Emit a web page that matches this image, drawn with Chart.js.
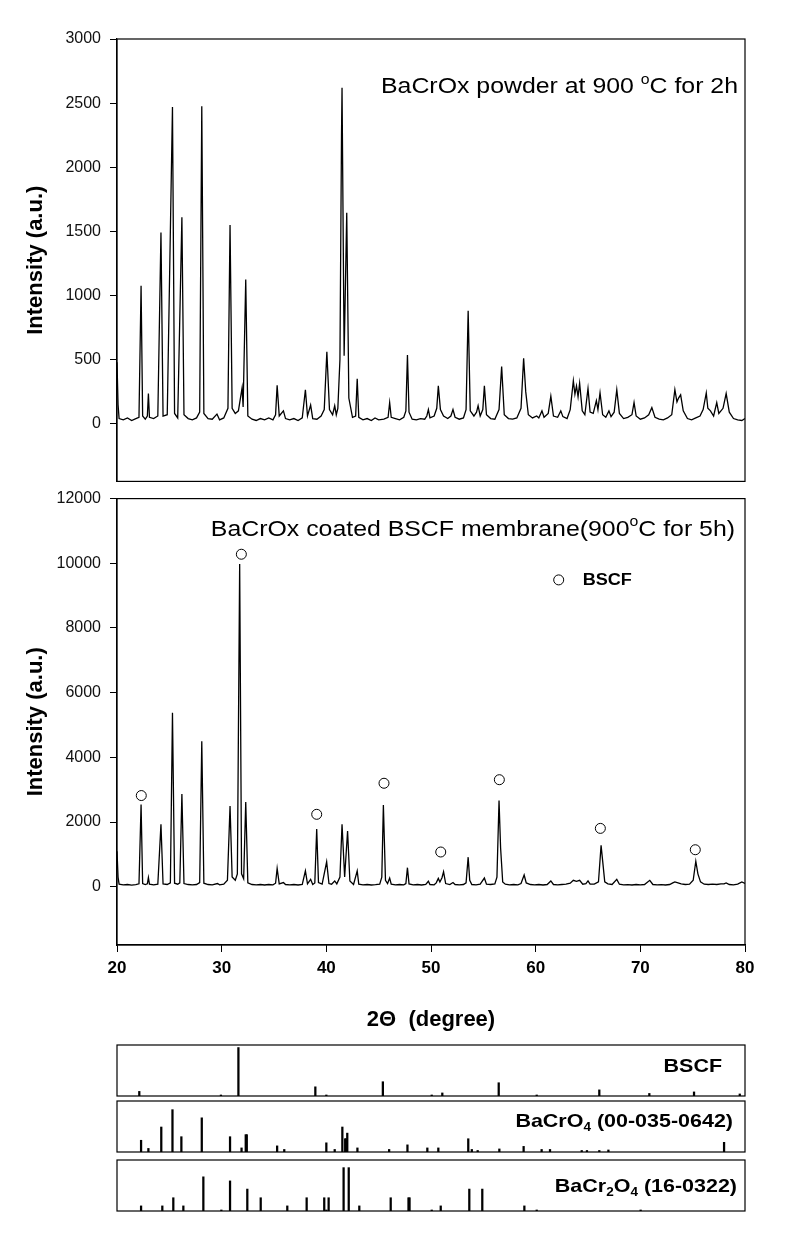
<!DOCTYPE html>
<html>
<head>
<meta charset="utf-8">
<script src="https://cdn.jsdelivr.net/npm/chart.js@4"></script>
<style>
  body { margin: 0; background: #fff; width: 792px; height: 1251px; position: relative; overflow: hidden; }
  canvas { position: absolute; left: 0; }
</style>
</head>
<body>
<canvas id="powderChart" width="792" height="500" style="top:0px"></canvas>
<canvas id="membraneChart" width="792" height="560" style="top:480px"></canvas>
<canvas id="bscfRef" width="792" height="61" style="top:1040px"></canvas>
<canvas id="chromateRef" width="792" height="61" style="top:1096px"></canvas>
<canvas id="chromiteRef" width="792" height="61" style="top:1155px"></canvas>
<script>
// BaCrOx powder, 900 C 2h  -- [2theta, intensity]
const powderScan = [
  [20.0,480],[20.1,150],[20.2,40],[20.6,30],[21.0,45],[21.4,25],[21.8,40],[22.1,50],[22.3,1075],[22.45,60],
  [22.7,35],[22.9,60],[23.0,235],[23.1,50],[23.5,40],[23.9,60],[24.2,1490],[24.4,60],[24.8,70],[25.3,2470],
  [25.5,80],[25.8,45],[26.2,1610],[26.4,70],[26.8,40],[27.2,30],[27.6,45],[27.9,90],[28.1,2475],[28.3,80],
  [28.7,40],[29.1,35],[29.55,75],[29.8,30],[30.2,45],[30.6,120],[30.8,1550],[31.0,120],[31.3,80],[31.6,100],
  [31.95,280],[32.05,130],[32.3,1125],[32.5,60],[32.9,35],[33.3,25],[33.7,40],[34.1,30],[34.5,45],[34.9,30],
  [35.15,70],[35.3,300],[35.5,60],[35.9,100],[36.1,40],[36.5,30],[36.9,40],[37.3,25],[37.7,45],[38.0,265],
  [38.2,60],[38.5,145],[38.7,40],[39.1,35],[39.5,60],[39.8,110],[40.05,560],[40.3,110],[40.6,70],[40.8,140],
  [40.95,70],[41.1,120],[41.3,500],[41.45,2250],[41.5,2620],[41.7,530],[41.95,1645],[42.15,200],[42.5,50],[42.8,60],
  [42.95,350],[43.1,50],[43.5,30],[43.9,40],[44.3,25],[44.65,45],[45.0,30],[45.5,35],[45.9,50],[46.05,165],
  [46.2,50],[46.6,40],[47.0,30],[47.4,50],[47.6,100],[47.75,535],[47.9,90],[48.2,35],[48.6,30],[49.0,40],
  [49.4,35],[49.6,60],[49.75,110],[49.9,45],[50.3,60],[50.55,120],[50.7,295],[50.9,110],[51.2,60],[51.6,40],
  [51.9,60],[52.1,110],[52.3,50],[52.7,35],[53.1,45],[53.35,110],[53.55,880],[53.75,100],[54.1,60],[54.35,90],
  [54.5,140],[54.7,60],[54.95,110],[55.1,295],[55.3,70],[55.7,40],[56.1,35],[56.5,110],[56.75,445],[57.0,70],
  [57.4,40],[57.8,35],[58.2,45],[58.6,120],[58.85,510],[59.05,250],[59.3,70],[59.7,45],[60.1,60],[60.3,45],
  [60.6,100],[60.8,50],[61.2,80],[61.45,215],[61.7,60],[62.1,50],[62.4,100],[62.6,55],[63.0,40],[63.3,110],
  [63.6,335],[63.75,230],[63.9,295],[64.05,210],[64.2,315],[64.45,100],[64.7,70],[65.0,275],[65.2,90],[65.5,80],
  [65.8,180],[65.95,110],[66.15,240],[66.4,70],[66.7,50],[67.0,100],[67.2,55],[67.5,90],[67.75,265],[68.0,80],
  [68.4,40],[68.8,50],[69.2,70],[69.4,165],[69.6,60],[70.0,35],[70.4,45],[70.8,70],[71.1,125],[71.4,50],
  [71.8,35],[72.2,30],[72.6,45],[73.0,70],[73.3,265],[73.5,170],[73.65,200],[73.85,225],[74.1,100],[74.5,40],
  [74.9,30],[75.3,45],[75.7,60],[76.0,110],[76.3,240],[76.45,120],[76.7,100],[77.0,60],[77.3,165],[77.5,80],
  [77.9,120],[78.2,235],[78.5,90],[78.9,40],[79.3,30],[79.7,25],[80.0,40]
];

// BaCrOx coated BSCF membrane, 900 C 5h
const membraneScan = [
  [20.0,1100],[20.1,300],[20.2,80],[20.6,60],[21.0,70],[21.4,50],[21.8,65],[22.1,90],[22.3,2540],[22.45,100],
  [22.7,70],[22.9,90],[23.0,285],[23.1,80],[23.5,60],[23.9,80],[24.2,1930],[24.4,90],[24.8,70],[25.1,120],
  [25.3,5380],[25.5,110],[25.8,80],[26.0,120],[26.2,2870],[26.4,100],[26.8,70],[27.2,60],[27.6,70],[27.9,130],
  [28.1,4495],[28.3,110],[28.7,70],[29.1,60],[29.6,100],[29.8,60],[30.2,80],[30.55,200],[30.8,2500],[31.0,300],
  [31.3,200],[31.5,400],[31.72,9975],[31.9,400],[32.1,250],[32.3,2620],[32.5,120],[32.9,70],[33.3,60],[33.7,70],
  [34.1,55],[34.5,70],[34.9,60],[35.15,110],[35.3,570],[35.5,90],[35.9,130],[36.1,70],[36.5,60],[36.9,70],
  [37.3,55],[37.7,70],[38.0,490],[38.2,90],[38.5,230],[38.7,70],[38.9,120],[39.08,1785],[39.25,130],[39.6,80],
  [40.03,770],[40.25,100],[40.5,80],[40.8,180],[41.0,90],[41.3,300],[41.5,1930],[41.75,300],[42.03,1725],[42.25,180],
  [42.6,70],[42.95,490],[43.1,80],[43.5,60],[43.9,70],[44.3,55],[44.7,65],[45.1,80],[45.3,300],[45.45,2530],
  [45.65,200],[45.85,100],[46.05,270],[46.2,80],[46.6,60],[47.0,70],[47.4,60],[47.6,100],[47.75,590],[47.9,90],
  [48.3,60],[48.7,70],[49.1,55],[49.5,70],[49.75,170],[49.9,70],[50.3,60],[50.5,120],[50.7,260],[50.85,150],
  [51.05,280],[51.2,465],[51.4,100],[51.8,70],[52.1,130],[52.3,70],[52.7,60],[53.1,70],[53.35,120],[53.55,915],
  [53.7,200],[53.9,70],[54.3,60],[54.7,80],[55.1,270],[55.3,80],[55.7,70],[56.1,90],[56.3,300],[56.5,2670],
  [56.65,1200],[56.85,150],[57.1,80],[57.5,60],[57.9,70],[58.3,60],[58.6,100],[58.9,365],[59.1,120],[59.5,70],
  [59.9,60],[60.3,70],[60.7,55],[61.1,70],[61.45,180],[61.7,70],[62.1,60],[62.5,70],[62.9,80],[63.3,110],
  [63.6,200],[63.9,170],[64.2,200],[64.5,80],[64.8,100],[65.0,180],[65.2,80],[65.6,80],[66.0,150],[66.25,1280],
  [66.4,800],[66.6,150],[66.9,90],[67.3,70],[67.75,230],[68.0,80],[68.4,60],[68.8,65],[69.2,55],[69.6,70],
  [70.0,60],[70.4,70],[70.9,200],[71.2,70],[71.6,60],[72.0,65],[72.4,55],[72.8,70],[73.1,120],[73.3,150],
  [73.6,120],[73.9,90],[74.3,70],[74.7,80],[75.05,200],[75.3,790],[75.5,400],[75.75,150],[76.1,80],[76.5,70],
  [76.9,80],[77.3,70],[77.7,90],[78.0,90],[78.2,120],[78.5,70],[78.9,60],[79.3,80],[79.7,150],[80.0,100]
];

// open circles over the BSCF reflections
const bscfMarkers = [[22.32,2820],[31.88,10280],[39.08,2240],[45.51,3200],[50.93,1075],[56.53,3310],[66.18,1805],[75.25,1145]];

// reference patterns, relative intensity (0-100)
const bscfSticks = [[22.13,9],[29.93,2],[31.6,95],[38.95,18],[40.0,2],[45.4,28],[50.07,2],[51.08,6],[56.47,26],[60.1,2],[66.08,12],[70.86,5],[75.13,8],[79.5,4]];
const bacro4Sticks = [[22.3,23],[23.0,7],[24.23,49],[25.3,83],[26.15,30],[28.1,67],[30.8,30],[31.9,8],[32.3,34],[32.4,34],[35.3,12],[35.98,5],[40.0,18],[40.8,5],[41.53,49],[41.8,26],[41.88,26],[42.0,37],[42.97,8],[46.0,5],[47.75,14],[49.65,8],[50.7,8],[53.56,26],[53.9,5],[54.46,3],[56.53,6],[58.85,11],[60.57,5],[61.37,5],[64.4,3],[64.9,3],[66.08,3],[66.95,4],[78.0,19]];
const bacr2o4Sticks = [[22.3,10],[24.33,10],[25.38,26],[26.34,10],[28.25,67],[29.97,2],[30.8,59],[32.45,43],[33.73,26],[36.27,10],[38.12,26],[39.8,26],[40.0,2],[40.22,26],[41.65,85],[42.14,85],[43.15,10],[46.15,26],[47.85,26],[47.95,26],[50.07,2],[50.93,10],[53.66,43],[54.9,43],[58.92,10],[60.1,2],[70.03,2]];

// axis ticks
const powderTicks = [0, 500, 1000, 1500, 2000, 2500, 3000];
const membraneTicks = [0, 2000, 4000, 6000, 8000, 10000, 12000];
const twoThetaTicks = [20, 30, 40, 50, 60, 70, 80];

const FONT = 'Arial, "Liberation Sans", sans-serif';
const STRETCH = 1.13; // the original figure is a bit wider than tall

const toPoints = pairs => pairs.map(p => ({ x: p[0], y: p[1] }));

function drawRich(ctx, parts, x, y, size, weight) {
  const fontOf = p => (weight || 'normal') + ' ' + (p.sup || p.sub ? Math.round(size * 0.62) : size) + 'px ' + FONT;
  ctx.save();
  let total = 0;
  const widths = parts.map(p => { ctx.font = fontOf(p); const w = ctx.measureText(p.t).width; total += w; return w; });
  ctx.translate(x, y);
  ctx.scale(STRETCH, 1);
  ctx.fillStyle = '#000';
  ctx.textBaseline = 'alphabetic';
  let cx = -total;
  parts.forEach((p, i) => {
    ctx.font = fontOf(p);
    const dy = p.sup ? -size * 0.42 : p.sub ? size * 0.2 : 0;
    ctx.fillText(p.t, cx, dy);
    cx += widths[i];
  });
  ctx.restore();
}

// box around the plot area, text notes, optional legend
function decorations(notes, legend) {
  return {
    id: 'decorations',
    afterDraw(chart) {
      const { ctx, chartArea: a } = chart;
      ctx.save();
      ctx.strokeStyle = '#000';
      ctx.lineWidth = 1.2;
      ctx.strokeRect(a.left, a.top, a.right - a.left, a.bottom - a.top);
      ctx.restore();
      notes.forEach(n => drawRich(ctx, n.parts, a.right - n.right, a.top + n.top, n.size, n.weight));
      if (legend) {
        ctx.save();
        ctx.beginPath();
        ctx.arc(a.left + legend.x, a.top + legend.y, 5, 0, Math.PI * 2);
        ctx.strokeStyle = '#000';
        ctx.lineWidth = 1;
        ctx.stroke();
        ctx.translate(a.left + legend.x + 24, a.top + legend.y + 5.5);
        ctx.scale(STRETCH, 1);
        ctx.font = 'bold 16px ' + FONT;
        ctx.fillStyle = '#000';
        ctx.fillText(legend.text, 0, 0);
        ctx.restore();
      }
    }
  };
}

function intensityAxis(min, max, tickValues) {
  return {
    min: min,
    max: max,
    ticks: { autoSkip: false, padding: 9, color: '#111', font: { family: FONT, size: 16 }, callback: v => String(v) },
    afterBuildTicks: s => { s.ticks = tickValues.map(v => ({ value: v })); },
    afterFit: s => { s.width = 117; },
    grid: { drawOnChartArea: false, tickLength: 7, color: '#000' },
    border: { color: '#000', width: 1.2 },
    title: {
      display: true, text: 'Intensity (a.u.)', color: '#000',
      font: { family: FONT, size: 22, weight: 'bold' }, padding: { top: 23, bottom: 0 }
    }
  };
}

const baseOptions = {
  responsive: false,
  animation: false,
  events: [],
  plugins: { legend: { display: false }, tooltip: { enabled: false } }
};

new Chart(document.getElementById('powderChart'), {
  type: 'line',
  data: {
    datasets: [{ data: toPoints(powderScan), borderColor: '#000', borderWidth: 1.3, pointRadius: 0, tension: 0 }]
  },
  options: {
    ...baseOptions,
    layout: { padding: { top: 39, right: 47, bottom: 8, left: 0 } },
    scales: {
      x: { type: 'linear', min: 20, max: 80, display: false },
      y: intensityAxis(-450, 3000, powderTicks)
    }
  },
  plugins: [decorations([
    { parts: [{ t: 'BaCrOx powder at 900 ' }, { t: 'o', sup: true }, { t: 'C for 2h' }], right: 7, top: 54, size: 22 }
  ])]
});

new Chart(document.getElementById('membraneChart'), {
  type: 'line',
  data: {
    datasets: [
      { data: toPoints(membraneScan), borderColor: '#000', borderWidth: 1.3, pointRadius: 0, tension: 0 },
      {
        data: toPoints(bscfMarkers), showLine: false, pointStyle: 'circle', pointRadius: 5,
        pointBorderColor: '#000', pointBackgroundColor: 'rgba(0,0,0,0)', pointBorderWidth: 1
      }
    ]
  },
  options: {
    ...baseOptions,
    layout: { padding: { top: 12, right: 47, bottom: 0, left: 0 } },
    scales: {
      x: {
        type: 'linear', min: 20, max: 80,
        ticks: { autoSkip: false, padding: 6, color: '#000', font: { family: FONT, size: 17, weight: 'bold' } },
        afterBuildTicks: s => { s.ticks = twoThetaTicks.map(v => ({ value: v })); },
        afterFit: s => { s.height = 95; },
        grid: { drawOnChartArea: false, tickLength: 7, color: '#000' },
        border: { color: '#000', width: 1.2 },
        title: {
          display: true, text: '2\u0398  (degree)', color: '#000',
          font: { family: FONT, size: 22, weight: 'bold' }, padding: { top: 0, bottom: 7 }
        }
      },
      y: intensityAxis(-1800, 12000, membraneTicks)
    }
  },
  plugins: [decorations(
    [{ parts: [{ t: 'BaCrOx coated BSCF membrane(900' }, { t: 'o', sup: true }, { t: 'C for 5h)' }], right: 10, top: 37, size: 22 }],
    { x: 441.7, y: 81.3, text: 'BSCF' }
  )]
});

function stickChart(id, sticks, label) {
  new Chart(document.getElementById(id), {
    type: 'bar',
    data: {
      datasets: [{ data: toPoints(sticks), backgroundColor: '#000', borderWidth: 0, barThickness: 1.6 }]
    },
    options: {
      ...baseOptions,
      layout: { padding: { top: 5, right: 47, bottom: 5, left: 117 } },
      scales: {
        x: { type: 'linear', min: 20, max: 80, offset: false, display: false },
        y: { min: 0, max: 100, display: false }
      }
    },
    plugins: [decorations([label])]
  });
}

stickChart('bscfRef', bscfSticks,
  { parts: [{ t: 'BSCF' }], right: 23, top: 27, size: 19, weight: 'bold' });
stickChart('chromateRef', bacro4Sticks,
  { parts: [{ t: 'BaCrO' }, { t: '4', sub: true }, { t: ' (00-035-0642)' }], right: 12, top: 26, size: 19, weight: 'bold' });
stickChart('chromiteRef', bacr2o4Sticks,
  { parts: [{ t: 'BaCr' }, { t: '2', sub: true }, { t: 'O' }, { t: '4', sub: true }, { t: ' (16-0322)' }], right: 8, top: 32, size: 19, weight: 'bold' });
</script>
</body>
</html>
